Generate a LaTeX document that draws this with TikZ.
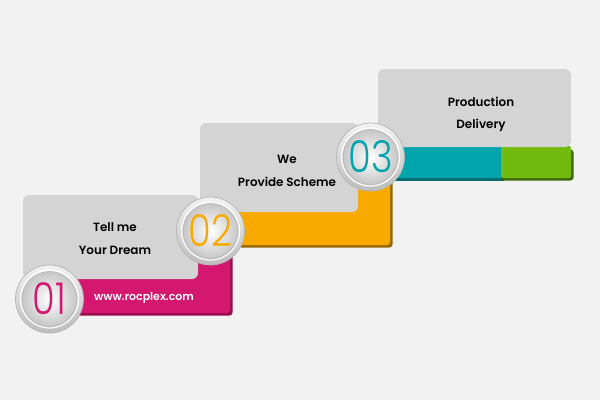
\documentclass[tikz,border=0pt]{standalone}
\usepackage{fontspec}
\setmainfont{Poppins}
\IfFontExistsTF{Poppins Light}{\newfontfamily\numfont{Poppins Light}}{\newfontfamily\numfont{Poppins}}
\IfFontExistsTF{Poppins SemiBold}{\newfontfamily\txtfont{Poppins SemiBold}}{\newfontfamily\txtfont{Poppins}[UprightFont=*-Bold]}
\usetikzlibrary{shadings}
\definecolor{bgc}{HTML}{F2F2F2}
\definecolor{panelc}{HTML}{D4D4D4}
\definecolor{pinkc}{HTML}{D4176F}
\definecolor{pinkd}{HTML}{9A0E50}
\definecolor{orangec}{HTML}{F8AA00}
\definecolor{oranged}{HTML}{9A6800}
\definecolor{tealc}{HTML}{00A5AC}
\definecolor{teald}{HTML}{006B70}
\definecolor{greenc}{HTML}{73BA0E}
\definecolor{greend}{HTML}{3E6808}
\definecolor{ringc}{HTML}{B4B4B4}
\newcommand{\numtxt}[1]{\scalebox{0.84}[1]{#1}}
\tikzset{
  panelbox/.style={fill=panelc, rounded corners=6bp},
  label/.style={font=\txtfont\fontsize{12}{14}\selectfont, text=black, inner sep=0pt, anchor=center},
  badgeout/.style={circle, minimum size=68bp, inner sep=0pt, top color=white!95!black, bottom color=white!74!black, draw=ringc, line width=0.7bp},
  badgein/.style={circle, minimum size=55bp, inner sep=0pt, inner color=white, outer color=white!78!black, draw=white!72!black, line width=0.6bp, font=\numfont\fontsize{44}{44}\selectfont},
  badgering/.style={circle, minimum size=58bp, inner sep=0pt, draw=white, line width=1.2bp}
}
\begin{document}
\begin{tikzpicture}[x=1bp,y=-1bp]
\fill[bgc] (0,0) rectangle (600,400);
\useasboundingbox (0,0) rectangle (600,400);
% ---- step 3
\fill[teald] (392.5,149.5) rectangle (503.5,180.5);
\fill[greend, rounded corners=3bp] (501,149.5) rectangle (573.5,180.5);
\fill[tealc] (390,146) rectangle (501,178);
\fill[greenc, rounded corners=2bp] (501,146) rectangle (571,178);
\fill[panelbox] (378,69) rectangle (571,147);
\node[label] (t3a) at (481,102) {Production};
\node[label] (t3b) at (481,125) {Delivery};
% ---- step 2
\fill[oranged, rounded corners=3bp] (238.5,172.5) rectangle (392.5,247.5);
\fill[orangec, rounded corners=3bp] (236,170) rectangle (390,245);
\fill[panelbox] (200,123) rectangle (358,212);
\node[label] (t2a) at (287,159) {We};
\node[label] (t2b) at (287,182) {Provide Scheme};
% ---- step 1
\fill[pinkd, rounded corners=3bp] (62.5,242.5) rectangle (232.5,315.5);
\fill[pinkc, rounded corners=3bp] (60,240) rectangle (230,313);
\fill[panelbox] (23,195) rectangle (198,279);
\node[label] (t1a) at (115,227) {Tell me};
\node[label] (t1b) at (115,250) {Your Dream};
\node[label, text=white, font=\txtfont\fontsize{11}{13}\selectfont] (web) at (144,298) {www.rocplex.com};
% ---- badges
\node[badgeout] (c3o) at (370.5,157) {};
\node[badgering] (c3r) at (c3o) {};
\node[badgein, text=tealc] (c3) at (c3o) {\numtxt{03}};
\node[badgeout] (c2o) at (210.5,231) {};
\node[badgering] (c2r) at (c2o) {};
\node[badgein, text=orangec] (c2) at (c2o) {\numtxt{02}};
\node[badgeout] (c1o) at (49.5,299) {};
\node[badgering] (c1r) at (c1o) {};
\node[badgein, text=pinkc] (c1) at (c1o) {\numtxt{01}};
\end{tikzpicture}
\end{document}
